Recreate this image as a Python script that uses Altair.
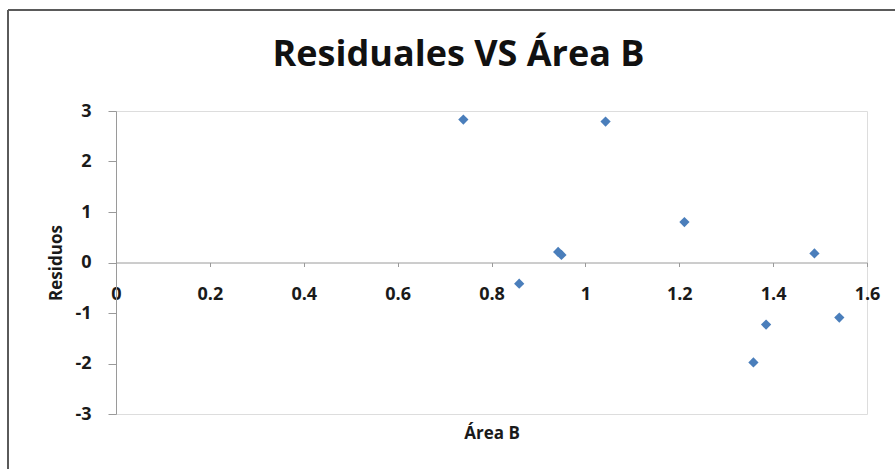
import altair as alt
import pandas as pd

area_b = [0.740, 1.043, 1.211, 0.942, 0.949, 0.859, 1.488, 1.358, 1.385, 1.541]
residuos = [2.83, 2.79, 0.80, 0.21, 0.15, -0.42, 0.18, -1.98, -1.23, -1.09]
x_ticks = [0, 0.2, 0.4, 0.6, 0.8, 1, 1.2, 1.4, 1.6]
y_ticks = [-3, -2, -1, 0, 1, 2, 3]

df = pd.DataFrame({"Área B": area_b, "Residuos": residuos})

FONT = "Open Sans"
AXIS_COLOR = "#9a9a9a"
TEXT_COLOR = "#1a1a1a"

points = alt.Chart(df).mark_point(
    shape="diamond", filled=True, size=105, color="#4A7EBB", opacity=1
).encode(
    x=alt.X("Área B:Q",
            scale=alt.Scale(domain=[0, 1.6], nice=False, zero=False),
            axis=alt.Axis(values=x_ticks, labelExpr="datum.value + ''",
                          grid=False, offset=-151.5, labelFlush=False,
                          domainColor=AXIS_COLOR, tickColor=AXIS_COLOR,
                          tickSize=4, labelPadding=19,
                          labelFont=FONT, labelFontSize=18, labelFontWeight="bold",
                          labelColor=TEXT_COLOR,
                          title="Área B", titleFont=FONT, titleFontSize=17,
                          titleFontWeight="bold", titleColor=TEXT_COLOR,
                          titlePadding=122)),
    y=alt.Y("Residuos:Q",
            scale=alt.Scale(domain=[-3, 3], nice=False),
            axis=alt.Axis(values=y_ticks, labelExpr="datum.value + ''",
                          grid=False,
                          domainColor=AXIS_COLOR, tickColor=AXIS_COLOR,
                          tickSize=8, labelPadding=17,
                          labelFont=FONT, labelFontSize=18, labelFontWeight="bold",
                          labelColor=TEXT_COLOR,
                          title="Residuos", titleFont=FONT, titleFontSize=17,
                          titleFontWeight="bold", titleColor=TEXT_COLOR,
                          titlePadding=9)),
)

frame = alt.Chart(df).mark_rule(color="#5a5a5a", strokeWidth=2).encode(
    x=alt.value(-108), x2=alt.value(780), y=alt.value(-101)
) + alt.Chart(df).mark_rule(color="#5a5a5a", strokeWidth=2).encode(
    x=alt.value(-108), y=alt.value(-101), y2=alt.value(360)
)

chart = (frame + points).properties(
    width=751, height=303,
    title=alt.TitleParams("Residuales VS Área B", font=FONT, fontSize=36,
                          fontWeight="bold", color="#111111", anchor="middle",
                          baseline="alphabetic", dx=-33, dy=93, offset=0),
    autosize=alt.AutoSizeParams(type="none"),
    padding={"left": 116, "top": 111, "right": 28, "bottom": 55},
).configure_view(stroke=None).configure(background="white")

chart.save("out.html", embed_options={"renderer": "svg", "actions": False})
